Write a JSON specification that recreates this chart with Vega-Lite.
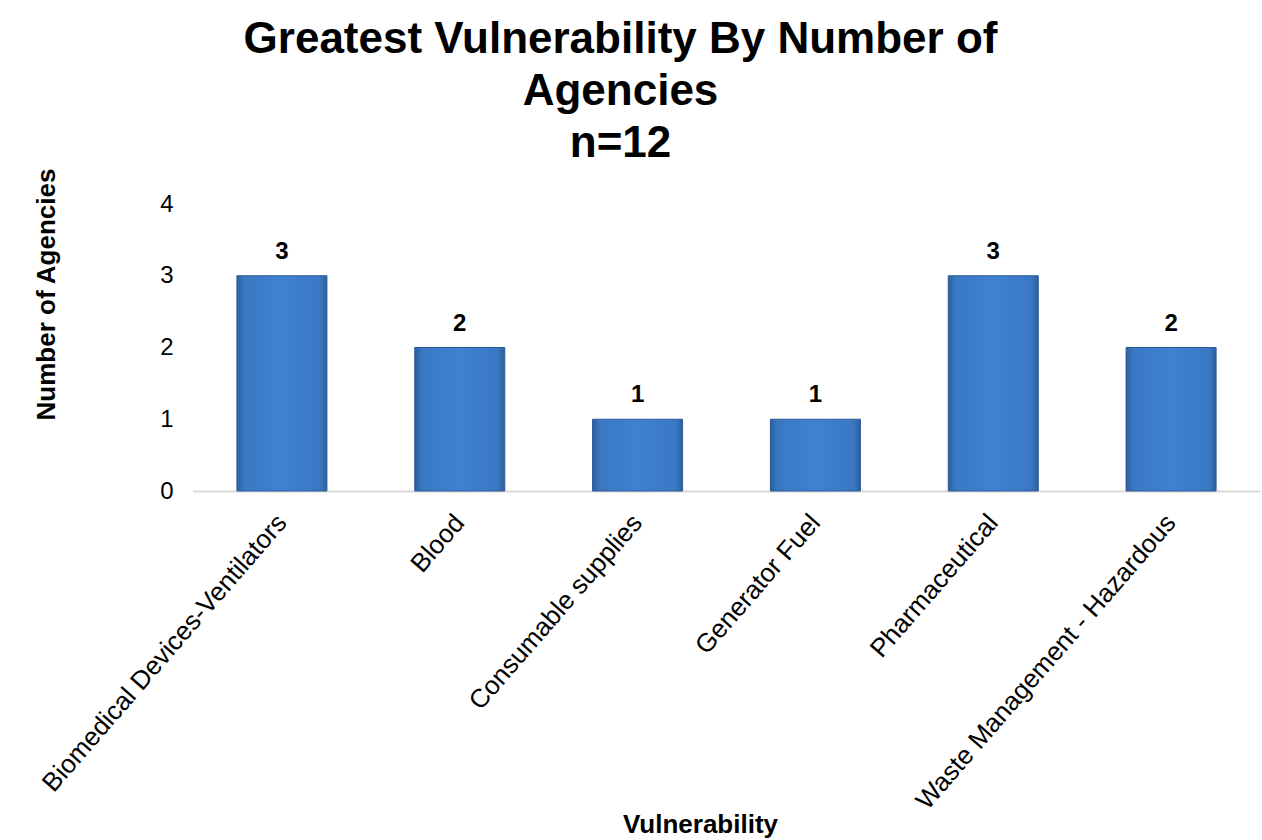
{
  "$schema": "https://vega.github.io/schema/vega-lite/v6.json",
  "width": 1067,
  "height": 287,
  "autosize": "none",
  "padding": {"left": 193, "top": 204, "right": 2, "bottom": 349},
  "background": "white",
  "config": {
    "font": "Liberation Sans",
    "view": {"stroke": null}
  },
  "title": {
    "text": ["Greatest Vulnerability By Number of", "Agencies", "n=12"],
    "fontSize": 44,
    "fontWeight": "bold",
    "lineHeight": 52,
    "color": "black",
    "anchor": "middle",
    "dx": -106,
    "offset": 2
  },
  "data": {
    "values": [
      {"vulnerability": "Biomedical Devices-Ventilators", "agencies": 3},
      {"vulnerability": "Blood", "agencies": 2},
      {"vulnerability": "Consumable supplies", "agencies": 1},
      {"vulnerability": "Generator Fuel", "agencies": 1},
      {"vulnerability": "Pharmaceutical", "agencies": 3},
      {"vulnerability": "Waste Management - Hazardous", "agencies": 2}
    ]
  },
  "encoding": {
    "x": {
      "field": "vulnerability",
      "type": "nominal",
      "sort": null,
      "title": "Vulnerability",
      "scale": {"paddingInner": 0.49, "paddingOuter": 0.245},
      "axis": {
        "labelAngle": -49,
        "labelFontSize": 26,
        "labelColor": "black",
        "labelPadding": 27,
        "labelLimit": 500,
        "ticks": false,
        "domainColor": "#d9d9d9",
        "domainWidth": 2,
        "titleFontSize": 26,
        "titleFontWeight": "bold",
        "titleColor": "black",
        "titleX": 507,
        "titleY": 320,
        "titleBaseline": "top"
      }
    },
    "y": {
      "field": "agencies",
      "type": "quantitative",
      "title": "Number of Agencies",
      "scale": {"domain": [0, 4]},
      "axis": {
        "values": [0, 1, 2, 3, 4],
        "grid": false,
        "domain": false,
        "ticks": false,
        "labelFontSize": 24,
        "labelColor": "black",
        "labelPadding": 20,
        "titleFontSize": 26,
        "titleFontWeight": "bold",
        "titleColor": "black",
        "titleX": -147,
        "titleY": 90,
        "titleBaseline": "middle"
      }
    }
  },
  "layer": [
    {
      "mark": {
        "type": "bar",
        "width": 90,
        "stroke": "#2a5a95",
        "strokeWidth": 1,
        "color": {
          "gradient": "linear",
          "x1": 0, "y1": 0, "x2": 1, "y2": 0,
          "stops": [
            {"offset": 0, "color": "#2c5f9f"},
            {"offset": 0.08, "color": "#3a78c4"},
            {"offset": 0.5, "color": "#3f82d0"},
            {"offset": 0.92, "color": "#3a78c4"},
            {"offset": 1, "color": "#2c5f9f"}
          ]
        }
      }
    },
    {
      "mark": {
        "type": "text",
        "baseline": "bottom",
        "dy": -12,
        "fontSize": 24,
        "fontWeight": "bold",
        "color": "black"
      },
      "encoding": {
        "text": {"field": "agencies", "type": "quantitative"}
      }
    }
  ]
}
